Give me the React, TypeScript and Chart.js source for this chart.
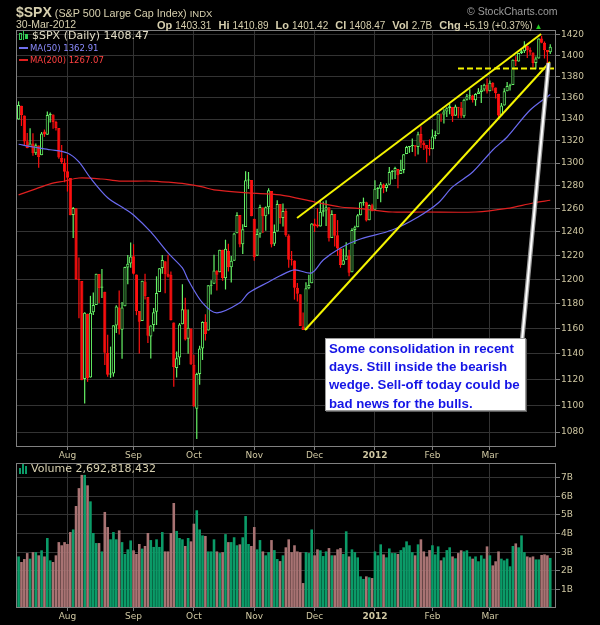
import React, { useEffect, useRef } from "react";
import { Chart, registerables } from "chart.js";

Chart.register(...registerables);

// ---------------- data (trading days 7-Jul-2011 .. 30-Mar-2012) ----------------
const opens: number[] = [
  1339.6, 1352.4, 1343.3, 1319.6, 1314.5, 1317.7, 1308.9, 1315.9, 1307.1, 1328.7, 1325.6, 1343.8, 1344.3, 1337.4, 1331.9, 1304.8, 1300.1,
  1292.6, 1286.6, 1254.3, 1260.2, 1200.3, 1198.5, 1120.2, 1171.8, 1121.3, 1172.9, 1178.9, 1204.2, 1192.9, 1189.6, 1140.5, 1123.6, 1124.4, 1162.2, 1176.7, 1158.9, 1177.9, 1209.8, 1213.0,
  1219.1, 1203.9, 1174.0, 1165.9, 1198.0, 1185.4, 1153.5, 1162.6, 1173.3, 1189.4, 1209.2, 1215.0, 1204.5, 1203.6, 1164.6, 1128.8, 1136.9, 1163.3, 1175.4, 1151.7, 1159.9,
  1131.2, 1097.4, 1124.0, 1144.1, 1165.0, 1158.2, 1194.6, 1196.2, 1207.0, 1205.7, 1224.5, 1200.8, 1223.5, 1209.9, 1215.4, 1238.7, 1254.2, 1229.2, 1244.0, 1284.4, 1285.0,
  1251.0, 1219.6, 1238.2, 1260.8, 1253.2, 1261.1, 1275.2, 1229.6, 1240.1, 1263.9, 1251.7, 1257.8, 1236.6, 1216.2, 1215.6, 1193.0, 1187.5, 1161.4, 1158.7, 1192.6, 1196.7,
  1246.9, 1246.0, 1244.3, 1257.2, 1258.1, 1260.9, 1234.5, 1255.1, 1236.8, 1225.7, 1212.1, 1216.1, 1219.7, 1205.7, 1241.3, 1243.7, 1254.0, 1265.0, 1265.4, 1249.8, 1262.8,
  1258.9, 1277.0, 1277.3, 1280.9, 1277.8, 1280.8, 1292.0, 1292.5, 1294.8, 1290.2, 1293.7, 1308.1, 1314.5, 1315.3, 1316.0, 1314.4, 1326.3, 1318.3, 1316.2, 1313.5,
  1312.5, 1324.2, 1326.2, 1344.3, 1344.3, 1347.0, 1350.0, 1351.2, 1343.1, 1351.3, 1350.5, 1342.6, 1358.1, 1361.2, 1362.1, 1357.5, 1363.5, 1365.2, 1367.6, 1372.2,
  1365.9, 1374.1, 1369.6, 1363.6, 1343.4, 1352.7, 1366.0, 1370.8, 1371.9, 1396.0, 1394.2, 1402.5, 1404.2, 1409.6, 1405.5, 1402.9, 1392.8, 1397.1, 1416.6, 1412.5, 1405.4, 1403.3,
];

const highs: number[] = [
  1356.5, 1352.4, 1343.3, 1327.2, 1331.5, 1326.9, 1317.7, 1315.9, 1328.1, 1330.4, 1347.0, 1346.1, 1344.3, 1338.5, 1331.9, 1316.3, 1304.2,
  1307.4, 1286.6, 1261.2, 1260.2, 1218.1, 1198.5, 1172.9, 1171.8, 1186.3, 1189.0, 1204.5, 1204.2, 1208.5, 1189.6, 1154.9, 1145.5, 1162.4, 1178.7, 1190.7, 1181.2, 1210.3, 1220.1, 1230.7,
  1229.3, 1203.9, 1174.0, 1198.6, 1204.4, 1185.4, 1162.5, 1176.4, 1202.4, 1209.1, 1220.1, 1215.0, 1220.4, 1206.3, 1164.6, 1141.7, 1164.2, 1195.9, 1184.7, 1175.1, 1159.9,
  1139.0, 1125.1, 1146.1, 1165.6, 1171.4, 1194.9, 1199.2, 1220.3, 1207.5, 1224.6, 1224.5, 1233.1, 1229.6, 1219.4, 1239.0, 1256.6, 1254.2, 1246.3, 1292.7, 1292.0, 1285.0,
  1251.0, 1242.5, 1263.2, 1260.8, 1261.7, 1277.6, 1275.2, 1246.2, 1267.0, 1263.9, 1264.3, 1259.6, 1237.7, 1223.5, 1215.6, 1196.8, 1187.5, 1172.7, 1197.4, 1203.7, 1247.1,
  1251.1, 1260.1, 1266.7, 1266.0, 1267.1, 1260.9, 1258.3, 1255.1, 1249.9, 1225.7, 1225.6, 1231.0, 1224.6, 1242.8, 1245.1, 1255.2, 1265.4, 1269.4, 1265.9, 1263.5, 1264.1,
  1284.6, 1278.7, 1283.1, 1281.8, 1282.0, 1296.5, 1293.8, 1296.8, 1294.8, 1303.0, 1308.1, 1315.5, 1315.4, 1322.3, 1316.0, 1328.3, 1333.5, 1320.1, 1316.2, 1321.4,
  1330.5, 1329.2, 1345.3, 1344.4, 1349.2, 1351.0, 1354.3, 1351.2, 1353.4, 1351.3, 1355.9, 1359.0, 1363.4, 1367.8, 1362.7, 1364.2, 1368.9, 1371.9, 1373.1, 1378.0,
  1376.2, 1374.5, 1369.6, 1363.6, 1354.9, 1368.7, 1374.8, 1373.0, 1396.1, 1399.4, 1402.6, 1405.9, 1414.0, 1409.6, 1407.8, 1402.9, 1399.2, 1416.6, 1419.2, 1413.7, 1405.4, 1410.9,
];

const lows: number[] = [
  1339.6, 1333.7, 1316.4, 1313.3, 1314.5, 1306.5, 1307.3, 1295.9, 1307.1, 1323.7, 1325.6, 1336.9, 1331.1, 1329.6, 1303.9, 1299.2, 1282.9,
  1274.7, 1254.0, 1234.6, 1199.5, 1168.1, 1119.3, 1101.5, 1118.0, 1121.3, 1170.7, 1178.9, 1180.5, 1184.5, 1131.0, 1122.0, 1121.1, 1122.0, 1156.3, 1155.1, 1135.9, 1177.9, 1195.8, 1209.4,
  1203.9, 1170.6, 1140.1, 1165.9, 1183.3, 1148.4, 1136.1, 1157.4, 1162.7, 1189.4, 1204.5, 1188.4, 1201.3, 1166.2, 1114.2, 1121.4, 1131.1, 1163.3, 1150.4, 1139.9, 1131.3,
  1098.9, 1074.8, 1115.7, 1135.0, 1150.3, 1158.2, 1187.3, 1196.2, 1190.6, 1205.7, 1198.6, 1191.5, 1206.3, 1197.3, 1215.4, 1238.7, 1226.8, 1221.1, 1244.0, 1277.0, 1253.2,
  1215.4, 1219.6, 1234.8, 1238.9, 1240.8, 1255.0, 1226.6, 1227.7, 1240.1, 1246.7, 1244.3, 1235.7, 1209.4, 1211.4, 1183.2, 1181.7, 1161.8, 1158.7, 1158.7, 1191.8, 1196.7,
  1239.7, 1243.4, 1244.3, 1253.0, 1244.8, 1231.5, 1234.5, 1227.3, 1219.4, 1209.5, 1212.1, 1216.1, 1202.4, 1205.7, 1229.5, 1243.7, 1254.0, 1262.3, 1248.6, 1249.8, 1257.5,
  1258.9, 1268.1, 1265.3, 1273.3, 1274.6, 1280.8, 1285.4, 1285.8, 1277.6, 1290.2, 1291.0, 1308.1, 1309.2, 1309.9, 1306.1, 1307.6, 1313.6, 1311.7, 1300.5, 1306.7,
  1312.5, 1321.6, 1326.2, 1337.5, 1335.9, 1341.9, 1344.6, 1337.4, 1343.1, 1340.8, 1340.8, 1341.2, 1357.2, 1358.1, 1355.5, 1352.3, 1363.5, 1354.9, 1366.0, 1363.8,
  1365.9, 1366.4, 1359.1, 1340.0, 1343.4, 1352.7, 1366.0, 1366.7, 1371.9, 1390.0, 1394.2, 1401.5, 1402.4, 1397.7, 1400.6, 1388.7, 1386.9, 1397.1, 1412.0, 1397.2, 1391.6, 1401.4,
];

const closes: number[] = [
  1353.2, 1343.8, 1319.5, 1313.6, 1317.7, 1308.9, 1316.1, 1305.4, 1326.7, 1325.8, 1343.8, 1345.0, 1337.4, 1331.9, 1304.9, 1300.7, 1292.3,
  1286.9, 1254.1, 1260.3, 1200.1, 1199.4, 1119.5, 1172.5, 1120.8, 1172.6, 1178.8, 1204.5, 1192.8, 1193.9, 1140.7, 1123.5, 1123.8, 1162.4, 1177.6, 1159.3, 1176.8, 1210.1, 1212.9, 1218.9,
  1204.4, 1174.0, 1165.2, 1198.6, 1185.9, 1154.2, 1162.3, 1172.9, 1188.7, 1209.1, 1216.0, 1204.1, 1202.1, 1166.8, 1129.6, 1136.4, 1163.0, 1175.4, 1151.1, 1160.4, 1131.4,
  1099.2, 1124.0, 1144.0, 1165.0, 1155.5, 1194.9, 1195.5, 1207.3, 1203.7, 1224.6, 1200.9, 1225.4, 1209.9, 1215.4, 1238.3, 1254.2, 1229.1, 1242.0, 1284.6, 1285.1, 1253.3,
  1218.3, 1237.9, 1261.2, 1253.2, 1261.1, 1275.9, 1229.1, 1239.7, 1263.9, 1251.8, 1257.8, 1236.9, 1216.1, 1215.7, 1193.0, 1188.0, 1161.8, 1158.7, 1192.6, 1195.2, 1247.0,
  1244.6, 1244.3, 1257.1, 1258.5, 1261.0, 1234.4, 1255.2, 1236.5, 1225.7, 1211.8, 1215.8, 1219.7, 1205.4, 1241.3, 1243.7, 1254.0, 1265.3, 1265.4, 1249.6, 1263.0, 1257.6,
  1277.1, 1277.3, 1281.1, 1277.8, 1280.7, 1292.1, 1292.5, 1295.5, 1289.1, 1293.7, 1308.0, 1314.5, 1315.4, 1316.0, 1314.7, 1326.1, 1318.4, 1316.3, 1313.0, 1312.4,
  1324.1, 1325.5, 1344.9, 1344.3, 1347.1, 1350.0, 1352.0, 1342.6, 1351.8, 1350.5, 1343.2, 1358.0, 1361.2, 1362.2, 1357.7, 1363.5, 1365.7, 1367.6, 1372.2, 1365.7,
  1374.1, 1369.6, 1364.3, 1343.4, 1352.6, 1365.9, 1370.9, 1371.1, 1396.0, 1394.3, 1402.6, 1404.2, 1409.8, 1405.5, 1402.9, 1392.8, 1397.1, 1416.5, 1412.5, 1405.5, 1403.3, 1408.5,
];

// volume in billions of shares
const volumes: number[] = [
  2.77, 2.47, 2.63, 2.95, 2.65, 3.0, 3.0, 2.83, 3.1, 2.77, 3.76, 2.56, 2.47, 2.83, 3.54, 3.37, 3.54,
  3.44, 4.08, 4.22, 5.48, 6.44, 7.15, 7.15, 6.59, 5.73, 4.03, 3.49, 3.49, 3.04, 5.16, 4.35, 3.69, 4.08, 3.69, 4.17, 3.54, 2.9, 3.15, 3.63,
  3.1, 2.9, 3.44, 3.19, 3.33, 4.03, 3.65, 3.28, 3.69, 3.28, 4.08, 3.04, 3.04, 4.03, 5.64, 4.14, 3.76, 3.69, 3.33, 3.76, 3.58,
  4.53, 5.25, 4.22, 3.9, 3.87, 3.04, 3.04, 3.69, 3.04, 2.95, 3.0, 3.97, 3.54, 3.54, 3.8, 3.37, 3.42, 3.8, 4.94, 3.44, 3.33,
  4.35, 3.15, 3.65, 3.04, 2.83, 3.0, 3.65, 3.11, 2.63, 2.52, 2.83, 3.26, 3.69, 3.0, 3.37, 3.04, 3.0, 1.34, 3.0, 2.95, 4.22,
  2.83, 3.15, 3.1, 2.79, 3.04, 3.22, 2.83, 2.83, 3.15, 3.22, 2.9, 4.12, 2.77, 3.15, 3.0, 2.72, 1.7, 1.56, 1.7, 1.65, 1.61,
  3.04, 2.83, 3.42, 2.88, 2.72, 3.2, 2.95, 2.95, 2.9, 3.11, 3.26, 3.58, 3.37, 3.0, 2.83, 3.42, 3.69, 3.04, 2.77, 3.11,
  3.37, 2.88, 3.31, 2.56, 2.72, 3.11, 3.26, 2.77, 2.67, 2.95, 3.1, 3.04, 3.1, 2.77, 2.65, 2.77, 2.51, 2.83, 2.65, 3.31,
  2.83, 2.29, 2.51, 3.04, 2.65, 2.56, 2.65, 2.24, 3.33, 3.47, 3.26, 3.9, 3.0, 2.77, 2.72, 2.77, 2.61, 2.61, 2.85, 2.88, 2.83, 2.69,
];

const monthTickIndex: number[] = [17, 40, 61, 82, 103, 124, 144, 164];
const monthTickLabels: string[] = ["Aug", "Sep", "Oct", "Nov", "Dec", "2012", "Feb", "Mar"];
const priceTicks: number[] = [1080, 1100, 1120, 1140, 1160, 1180, 1200, 1220, 1240, 1260, 1280, 1300, 1320, 1340, 1360, 1380, 1400, 1420];
const volumeTicks: number[] = [1, 2, 3, 4, 5, 6, 7];

const ma50Index: number[] = [0, 5, 11, 17, 21, 25, 31, 37, 40, 46, 52, 57, 59, 64, 69, 77, 80, 87, 91, 96, 102, 106, 112, 118, 130, 139, 146, 151, 158, 165, 170, 178, 185];
const ma50Values: number[] = [1317, 1314.5, 1312, 1309, 1301, 1286.7, 1269.3, 1259.5, 1254.3, 1239.7, 1221.9, 1209.3, 1199.4, 1180.6, 1172.5, 1180.6, 1188.6, 1197.7, 1202.8, 1207.7, 1205.2, 1216, 1226.1, 1232.9, 1241.4, 1252.6, 1264.7, 1278.8, 1292, 1311.8, 1323.6, 1348.4, 1362.9];
const ma200Index: number[] = [0, 5, 11, 16, 21, 29, 35, 46, 52, 58, 64, 68, 80, 91, 103, 112, 118, 130, 141, 159, 170, 179, 185];
const ma200Values: number[] = [1271.8, 1276.2, 1281.5, 1284, 1286.7, 1285.8, 1284, 1284, 1283, 1281.5, 1278.8, 1276.2, 1273.5, 1271.8, 1265.6, 1261.2, 1260.1, 1256.9, 1256.9, 1256.9, 1260, 1264.7, 1267.1];

// hand-drawn annotations (bar index, price)
const wedgeUpperIndex: number[] = [96.9, 181.8];
const wedgeUpperPrice: number[] = [1251.7, 1421];
const wedgeLowerIndex: number[] = [99.66, 184.9];
const wedgeLowerPrice: number[] = [1158.7, 1393.8];
const supportIndex: number[] = [152.9, 187];
const supportPrice: number[] = [1387.6, 1387.6];
const calloutIndex: number[] = [175.2, 184.4];
const calloutPrice: number[] = [1150.7, 1392.8];

// ---------------- styling ----------------
const UP = "#66f266";
const DOWN = "#ff1010";
const VOL_UP = "#0b9b68";
const VOL_DOWN = "#a87373";
const GRID = "#333333";
const FRAME = "#808080";
const AXIS_TEXT = "#cfc7a2";
const SANS = "'Liberation Sans', Arial, sans-serif";
const DEJAVU = "'DejaVu Sans', sans-serif";

const isUpDay = closes.map((c, i) => (i === 0 ? c >= opens[0] : c >= closes[i - 1]));
const candleColor = isUpDay.map((u) => (u ? UP : DOWN));
const hollow = closes.map((c, i) => c > opens[i]);

const pts = (xs: number[], ys: number[]) => xs.map((x, k) => ({ x, y: ys[k] }));

const framePlugin = {
  id: "frame",
  afterDraw(chart: any) {
    const { ctx, chartArea: a } = chart;
    ctx.save();
    ctx.strokeStyle = FRAME;
    ctx.lineWidth = 1;
    ctx.strokeRect(a.left + 0.5, a.top + 0.5, a.right - a.left - 1, a.bottom - a.top - 1);
    ctx.restore();
  },
};

const monthFont = (c: any) => ({
  family: DEJAVU,
  size: 9,
  weight: c && c.tick && c.tick.value === 124 ? "bold" : "normal",
});

const xScale = (height: number) => ({
  type: "linear",
  min: -0.9,
  max: 187,
  offset: false,
  afterBuildTicks: (s: any) => {
    s.ticks = monthTickIndex.map((v) => ({ value: v }));
  },
  afterFit: (s: any) => {
    s.height = height;
  },
  ticks: {
    autoSkip: false,
    maxRotation: 0,
    padding: 0,
    color: AXIS_TEXT,
    font: monthFont,
    callback: (v: number) => monthTickLabels[monthTickIndex.indexOf(v)] ?? "",
  },
  grid: { color: GRID, tickColor: FRAME, tickLength: 3, offset: false },
  border: { display: false },
});

export default function App() {
  const mainRef = useRef<HTMLCanvasElement>(null);
  const volRef = useRef<HTMLCanvasElement>(null);

  useEffect(() => {
    const main = new Chart(mainRef.current as HTMLCanvasElement, {
      type: "bar",
      data: {
        datasets: [
          {
            type: "line",
            label: "callout-outer",
            data: pts(calloutIndex, calloutPrice),
            borderColor: "#9a9a9a",
            borderWidth: 4.5,
            pointRadius: 0,
            order: 0,
          },
          {
            type: "line",
            label: "callout-inner",
            data: pts(calloutIndex, calloutPrice),
            borderColor: "#ffffff",
            borderWidth: 2,
            pointRadius: 0,
            order: -1,
          },
          {
            type: "line",
            label: "wedge-upper",
            data: pts(wedgeUpperIndex, wedgeUpperPrice),
            borderColor: "#f4f400",
            borderWidth: 2,
            pointRadius: 0,
            order: 1,
          },
          {
            type: "line",
            label: "wedge-lower",
            data: pts(wedgeLowerIndex, wedgeLowerPrice),
            borderColor: "#f4f400",
            borderWidth: 2,
            pointRadius: 0,
            order: 1,
          },
          {
            type: "line",
            label: "support",
            data: pts(supportIndex, supportPrice),
            borderColor: "#f4f400",
            borderWidth: 2,
            borderDash: [6, 3],
            pointRadius: 0,
            order: 1,
          },
          {
            type: "line",
            label: "MA(50)",
            data: pts(ma50Index, ma50Values),
            borderColor: "#6a6af0",
            borderWidth: 1.2,
            pointRadius: 0,
            tension: 0.3,
            order: 3,
          },
          {
            type: "line",
            label: "MA(200)",
            data: pts(ma200Index, ma200Values),
            borderColor: "#e02020",
            borderWidth: 1.2,
            pointRadius: 0,
            tension: 0.3,
            order: 3,
          },
          {
            type: "bar",
            label: "body",
            data: opens.map((o, i) => ({ x: i, y: [o, closes[i]] })),
            backgroundColor: hollow.map((h, i) => (h ? "#000000" : candleColor[i])),
            borderColor: candleColor,
            borderWidth: 1,
            borderSkipped: false,
            barThickness: 3.2,
            minBarLength: 1,
            inflateAmount: 0,
            grouped: false,
            order: 8,
          },
          {
            type: "bar",
            label: "wick",
            data: lows.map((l, i) => ({ x: i, y: [l, highs[i]] })),
            backgroundColor: candleColor,
            barThickness: 1.2,
            inflateAmount: 0,
            grouped: false,
            order: 9,
          },
        ],
      } as any,
      options: {
        responsive: false,
        animation: false,
        events: [],
        layout: { padding: { left: 16, top: 30, right: 0, bottom: 0 } },
        plugins: { legend: { display: false }, tooltip: { enabled: false } },
        scales: {
          x: xScale(15),
          y: {
            type: "logarithmic",
            position: "right",
            min: 1068.9,
            max: 1424.9,
            bounds: "data",
            afterBuildTicks: (s: any) => {
              s.ticks = priceTicks.map((v) => ({ value: v }));
            },
            afterFit: (s: any) => {
              s.width = 44;
            },
            ticks: {
              padding: 1,
              color: AXIS_TEXT,
              font: { family: DEJAVU, size: 9 },
              callback: (v: number) => String(v),
            },
            grid: { color: GRID, tickColor: FRAME, tickLength: 4 },
            border: { display: false },
          },
        },
      } as any,
      plugins: [framePlugin],
    });

    const vol = new Chart(volRef.current as HTMLCanvasElement, {
      type: "bar",
      data: {
        datasets: [
          {
            label: "Volume",
            data: volumes.map((v, i) => ({ x: i, y: v })),
            backgroundColor: isUpDay.map((u) => (u ? VOL_UP : VOL_DOWN)),
            barThickness: 2.6,
            inflateAmount: 0,
          },
        ],
      } as any,
      options: {
        responsive: false,
        animation: false,
        events: [],
        layout: { padding: { left: 16, top: 13, right: 0, bottom: 0 } },
        plugins: { legend: { display: false }, tooltip: { enabled: false } },
        scales: {
          x: xScale(17),
          y: {
            type: "linear",
            position: "right",
            min: 0,
            max: 7.79,
            bounds: "data",
            afterBuildTicks: (s: any) => {
              s.ticks = volumeTicks.map((v) => ({ value: v }));
            },
            afterFit: (s: any) => {
              s.width = 44;
            },
            ticks: {
              padding: 1,
              color: AXIS_TEXT,
              font: { family: DEJAVU, size: 9 },
              callback: (v: number) => `${v}B`,
            },
            grid: { color: GRID, tickColor: FRAME, tickLength: 4 },
            border: { display: false },
          },
        },
      } as any,
      plugins: [framePlugin],
    });

    return () => {
      main.destroy();
      vol.destroy();
    };
  }, []);

  const abs = (s: any): any => ({ position: "absolute", whiteSpace: "nowrap", ...s });

  return (
    <div style={{ position: "fixed", left: 0, top: 0, width: 600, height: 625, background: "#000", overflow: "hidden" }}>
      <canvas ref={mainRef} width={600} height={462} style={abs({ left: 0, top: 0, width: 600, height: 462 })} />
      <canvas ref={volRef} width={600} height={175} style={abs({ left: 0, top: 450, width: 600, height: 175 })} />

      {/* header */}
      <div style={abs({ left: 16, top: 2, lineHeight: "20px", fontFamily: SANS, color: "#d6cfae" })}>
        <span style={{ fontWeight: "bold", fontSize: 14 }}>$SPX</span>
        <span style={{ fontSize: 10.75 }}> (S&amp;P 500 Large Cap Index) </span>
        <span style={{ fontSize: 9.5 }}>INDX</span>
      </div>
      <div style={abs({ left: 467, top: 4, lineHeight: "14px", fontFamily: SANS, fontSize: 10.5, color: "#9c9c9c" })}>
        © StockCharts.com
      </div>
      <div style={abs({ left: 16, top: 17, lineHeight: "14px", fontFamily: SANS, fontSize: 10.5, color: "#d6cfae" })}>
        30-Mar-2012
      </div>
      <div style={abs({ left: 157, top: 17, lineHeight: "14px", fontFamily: SANS, color: "#d6cfae" })}>
        <b style={{ fontSize: 11 }}>Op</b>
        <span style={{ fontSize: 10, marginLeft: 3, marginRight: 7 }}>1403.31</span>
        <b style={{ fontSize: 11 }}>Hi</b>
        <span style={{ fontSize: 10, marginLeft: 3, marginRight: 7 }}>1410.89</span>
        <b style={{ fontSize: 11 }}>Lo</b>
        <span style={{ fontSize: 10, marginLeft: 3, marginRight: 7 }}>1401.42</span>
        <b style={{ fontSize: 11 }}>Cl</b>
        <span style={{ fontSize: 10, marginLeft: 3, marginRight: 7 }}>1408.47</span>
        <b style={{ fontSize: 11 }}>Vol</b>
        <span style={{ fontSize: 10, marginLeft: 3, marginRight: 7 }}>2.7B</span>
        <b style={{ fontSize: 11 }}>Chg</b>
        <span style={{ fontSize: 10, marginLeft: 3 }}>+5.19 (+0.37%)</span>
        <span style={{ fontSize: 8, color: "#22cc22", marginLeft: 2 }}>▲</span>
      </div>

      {/* price legend */}
      <div style={abs({ left: 19, top: 33, width: 3, height: 7, border: "1px solid #33cc55", boxSizing: "border-box" })} />
      <div style={abs({ left: 23, top: 31, width: 1, height: 9, background: "#33cc55" })} />
      <div style={abs({ left: 25, top: 34, width: 3, height: 5, background: "#33cc55" })} />
      <div style={abs({ left: 32, top: 29, lineHeight: "14px", fontFamily: DEJAVU, fontSize: 11, color: "#e2ddc6" })}>
        $SPX (Daily) 1408.47
      </div>
      <div style={abs({ left: 19, top: 47, width: 9, height: 2, background: "#7070ee" })} />
      <div style={abs({ left: 30, top: 41, lineHeight: "14px", fontFamily: DEJAVU, fontSize: 8.5, color: "#8c8cff" })}>
        MA(50) 1362.91
      </div>
      <div style={abs({ left: 19, top: 59, width: 9, height: 2, background: "#e02020" })} />
      <div style={abs({ left: 30, top: 53, lineHeight: "14px", fontFamily: DEJAVU, fontSize: 8.5, color: "#ff4040" })}>
        MA(200) 1267.07
      </div>

      {/* volume legend */}
      <div style={abs({ left: 19, top: 468, width: 2, height: 6, background: "#0b9b68" })} />
      <div style={abs({ left: 22, top: 464, width: 2, height: 10, background: "#0b9b68" })} />
      <div style={abs({ left: 25, top: 466, width: 2, height: 8, background: "#0b9b68" })} />
      <div style={abs({ left: 31, top: 462, lineHeight: "14px", fontFamily: DEJAVU, fontSize: 11, color: "#d6cfae" })}>
        Volume 2,692,818,432
      </div>

      {/* annotation */}
      <div
        style={abs({
          left: 325,
          top: 338,
          width: 201,
          height: 73,
          boxSizing: "border-box",
          background: "#ffffff",
          border: "1px solid #9a9a9a",
          boxShadow: "1px 1px 0 #5a5a5a",
          padding: "1px 0 0 3px",
          fontFamily: SANS,
          fontWeight: "bold",
          fontSize: 13.25,
          lineHeight: "18.2px",
          color: "#1515e6",
        })}
      >
        Some consolidation in recent
        <br />
        days. Still inside the bearish
        <br />
        wedge. Sell-off today could be
        <br />
        bad news for the bulls.
      </div>
    </div>
  );
}
